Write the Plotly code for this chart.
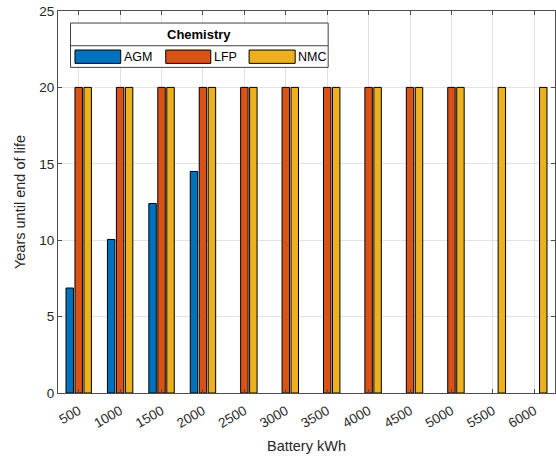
import plotly.graph_objects as go

categories = [500, 1000, 1500, 2000, 2500, 3000, 3500, 4000, 4500, 5000, 5500, 6000]
tick_labels = [str(c) for c in categories]
agm = [6.87, 10.05, 12.4, 14.5, None, None, None, None, None, None, None, None]
lfp = [20, 20, 20, 20, 20, 20, 20, 20, 20, 20, None, None]
nmc = [20, 20, 20, 20, 20, 20, 20, 20, 20, 20, 20, 20]
series_names = ["AGM", "LFP", "NMC"]
series_values = [agm, lfp, nmc]
series_colors = ["#0072BD", "#D95319", "#EDB120"]

FONT = "Liberation Sans, Arial, sans-serif"
TXT = "#262626"

fig = go.Figure()
for name, vals, col in zip(series_names, series_values, series_colors):
    fig.add_trace(go.Bar(
        x=categories, y=vals, name=name, marker_color=col,
        marker_line_color="#000000", marker_line_width=1, showlegend=False,
    ))

# manual MATLAB-style legend (paper coordinates)
box_x0, box_x1 = 0.0252, 0.5436
box_top, box_sep, box_bot = 0.9685, 0.909, 0.8524
fig.add_shape(type="rect", xref="paper", yref="paper", x0=box_x0, x1=box_x1,
              y0=box_bot, y1=box_top, line=dict(color="#404040", width=1),
              fillcolor="white", layer="above")
fig.add_shape(type="line", xref="paper", yref="paper", x0=box_x0, x1=box_x1,
              y0=box_sep, y1=box_sep, line=dict(color="#404040", width=1), layer="above")
fig.add_annotation(xref="paper", yref="paper", x=(box_x0 + box_x1) / 2, y=(box_top + box_sep) / 2,
                   text="<b>Chemistry</b>", showarrow=False, xanchor="center", yanchor="middle",
                   font=dict(family=FONT, size=13, color="#000000"))
sw_x = [(0.0342, 0.1262), (0.2168, 0.3074), (0.3845, 0.4772)]
sw_y0, sw_y1 = 0.8629, 0.8978
for (a, b), name, col in zip(sw_x, series_names, series_colors):
    fig.add_shape(type="rect", xref="paper", yref="paper", x0=a, x1=b, y0=sw_y0, y1=sw_y1,
                  line=dict(color="#000000", width=1), fillcolor=col, layer="above")
    fig.add_annotation(xref="paper", yref="paper", x=b + 0.002, y=(sw_y0 + sw_y1) / 2,
                       text=name, showarrow=False, xanchor="left", yanchor="middle",
                       font=dict(family=FONT, size=12.5, color="#000000"))

axis_common = dict(
    showline=True, linecolor="#4d4d4d", linewidth=1, mirror="ticks",
    ticks="inside", ticklen=4, tickcolor="#4d4d4d",
    showgrid=True, gridcolor="#e3e3e3", gridwidth=1, zeroline=False,
    tickfont=dict(family=FONT, size=13.5, color=TXT),
)
fig.update_layout(
    width=556, height=459,
    margin=dict(l=58, r=1, t=11, b=66),
    paper_bgcolor="white", plot_bgcolor="white",
    barmode="group", bargap=0.35, bargroupgap=0.17,
    xaxis=dict(axis_common, range=[250, 6250], tickvals=categories, ticktext=tick_labels,
               tickangle=-30, ticklabelstandoff=4,
               title=dict(text="Battery kWh", font=dict(family=FONT, size=14.5, color=TXT), standoff=10)),
    yaxis=dict(axis_common, range=[0, 25], tickvals=[0, 5, 10, 15, 20, 25],
               title=dict(text="Years until end of life", font=dict(family=FONT, size=14.5, color=TXT), standoff=10)),
)
fig.write_html("out.html")
